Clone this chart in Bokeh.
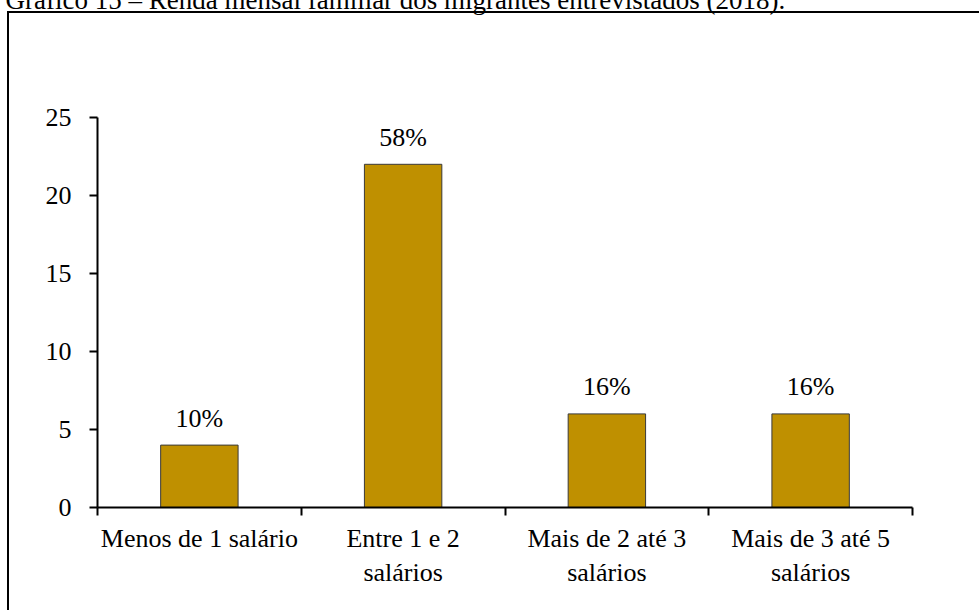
from bokeh.plotting import figure
from bokeh.models import FixedTicker, ColumnDataSource, Title
from bokeh.core.properties import value
from bokeh.embed import file_html
from bokeh.resources import INLINE

categories = ["Menos de 1 salário", "Entre 1 e 2\nsalários", "Mais de 2 até 3\nsalários", "Mais de 3 até 5\nsalários"]
counts = [4, 22, 6, 6]
percent_labels = ["10%", "58%", "16%", "16%"]
y_ticks = [0, 5, 10, 15, 20, 25]
title_text = "Gráfico 15 – Renda mensal familiar dos migrantes entrevistados (2018)."

FONT = "Liberation Serif"
FS = "26px"
SHIFT = 120  # part of the canvas scrolled above the window, so the title is cut like the source

positions = [i + 0.5 for i in range(len(categories))]
boundaries = [float(i) for i in range(len(categories) + 1)]
src = ColumnDataSource(dict(x=positions, top=counts, label=percent_labels))

p = figure(width=979, height=610 + SHIFT, x_range=(0, len(categories)), y_range=(0, 25),
           output_backend="svg", toolbar_location=None,
           min_border_left=97, min_border_right=67, min_border_top=117 + SHIFT, min_border_bottom=103)
p.outline_line_color = None
p.grid.visible = False
p.background_fill_color = None
p.border_fill_color = None
# outer chart box: only its top and left edges fall inside the picture
p.styles = {
    "margin-top": f"-{SHIFT}px",
    "background-color": "white",
    "background-image": "linear-gradient(#000, #000), linear-gradient(#000, #000)",
    "background-size": "3000px 2px, 2px 3000px",
    "background-position": f"7px {11 + SHIFT}px, 7px {11 + SHIFT}px",
    "background-repeat": "no-repeat",
}

p.add_layout(Title(text=title_text, align="left", offset=-92, standoff=117 + SHIFT - 32,
                   text_font=FONT, text_font_size="27px", text_font_style="normal",
                   text_line_height=0.2, text_color="black"), "above")

p.vbar(x="x", top="top", bottom=0, width=0.38, source=src,
       fill_color="#BF9000", line_color="#3a3a3a", line_width=1)
p.text(x="x", y="top", text="label", source=src, text_align="center",
       text_baseline="alphabetic", y_offset=-27,
       text_font=value(FONT), text_font_size=FS, text_color="black")

# x axis
xa = p.xaxis[0]
xa.ticker = FixedTicker(ticks=positions, minor_ticks=boundaries)
xa.major_label_overrides = {pos: cat for pos, cat in zip(positions, categories)}
xa.major_tick_out = 0
xa.major_tick_in = 0
xa.minor_tick_out = 8
xa.minor_tick_in = 0
xa.minor_tick_line_color = "black"
xa.minor_tick_line_width = 2
xa.axis_line_color = "black"
xa.axis_line_width = 2
xa.major_label_standoff = 8
xa.major_label_text_font = FONT
xa.major_label_text_font_size = FS
xa.major_label_text_color = "black"

# y axis
ya = p.yaxis[0]
ya.ticker = FixedTicker(ticks=y_ticks)
ya.major_tick_out = 8
ya.major_tick_in = 0
ya.major_tick_line_color = "black"
ya.major_tick_line_width = 2
ya.minor_tick_line_color = None
ya.axis_line_color = "black"
ya.axis_line_width = 2
ya.major_label_standoff = 18
ya.major_label_text_font = FONT
ya.major_label_text_font_size = FS
ya.major_label_text_color = "black"

open("out.html", "w").write(file_html(p, INLINE))
